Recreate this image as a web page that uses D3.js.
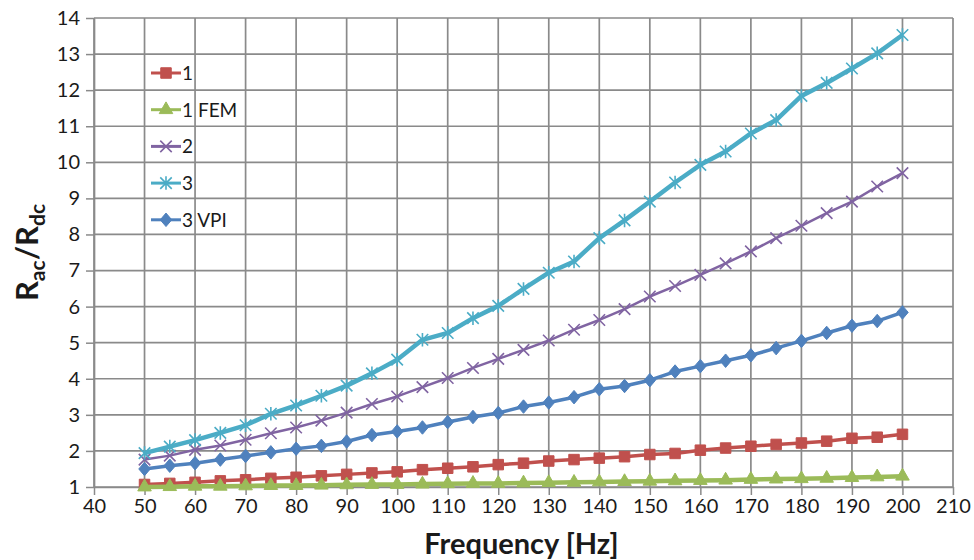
<!DOCTYPE html>
<html>
<head>
<meta charset="utf-8">
<script src="https://cdn.jsdelivr.net/npm/d3@7"></script>
<style>
  body { margin: 0; background: #fff; }
  svg { display: block; font-family: Lato, "Open Sans", sans-serif; }
</style>
</head>
<body>
<div id="chart"></div>
<script>
const freq = [50, 55, 60, 65, 70, 75, 80, 85, 90, 95, 100, 105, 110, 115, 120, 125, 130, 135, 140, 145, 150, 155, 160, 165, 170, 175, 180, 185, 190, 195, 200];
const s1 = [1.07, 1.10, 1.13, 1.17, 1.20, 1.24, 1.27, 1.31, 1.35, 1.39, 1.42, 1.48, 1.52, 1.56, 1.62, 1.66, 1.72, 1.76, 1.80, 1.84, 1.90, 1.93, 2.02, 2.08, 2.13, 2.18, 2.22, 2.27, 2.35, 2.38, 2.46];
const s1fem = [1.00, 1.01, 1.02, 1.02, 1.03, 1.04, 1.04, 1.05, 1.06, 1.07, 1.07, 1.08, 1.09, 1.10, 1.10, 1.11, 1.12, 1.13, 1.14, 1.15, 1.16, 1.17, 1.18, 1.19, 1.21, 1.22, 1.23, 1.24, 1.26, 1.28, 1.30];
const s2 = [1.76, 1.87, 2.03, 2.15, 2.31, 2.49, 2.65, 2.84, 3.06, 3.30, 3.51, 3.77, 4.02, 4.30, 4.55, 4.80, 5.06, 5.36, 5.63, 5.93, 6.28, 6.57, 6.88, 7.20, 7.53, 7.90, 8.24, 8.59, 8.91, 9.33, 9.70];
const s3 = [1.94, 2.12, 2.30, 2.50, 2.71, 3.03, 3.26, 3.53, 3.81, 4.15, 4.53, 5.08, 5.27, 5.68, 6.02, 6.49, 6.94, 7.25, 7.90, 8.39, 8.91, 9.44, 9.93, 10.30, 10.80, 11.17, 11.84, 12.20, 12.60, 13.02, 13.53];
const s3vpi = [1.50, 1.59, 1.66, 1.76, 1.86, 1.96, 2.06, 2.14, 2.26, 2.44, 2.54, 2.65, 2.80, 2.94, 3.05, 3.23, 3.34, 3.49, 3.71, 3.80, 3.96, 4.20, 4.35, 4.50, 4.65, 4.85, 5.05, 5.27, 5.47, 5.60, 5.84];
const seriesNames = ["1", "1 FEM", "2", "3", "3 VPI"];
const xTicks = d3.range(40, 211, 10);
const yTicks = d3.range(1, 15, 1);

const width = 974, height = 560;
const margin = { top: 18, right: 21, bottom: 73, left: 94 };

const series = [
  { name: seriesNames[0], values: s1, color: "#c0504d", width: 3.5, marker: "square" },
  { name: seriesNames[1], values: s1fem, color: "#9bbb59", width: 4.5, marker: "triangle" },
  { name: seriesNames[2], values: s2, color: "#8064a2", width: 2.5, marker: "x" },
  { name: seriesNames[3], values: s3, color: "#4bacc6", width: 4.5, marker: "star" },
  { name: seriesNames[4], values: s3vpi, color: "#4f81bd", width: 3.5, marker: "diamond" }
];

const svg = d3.select("#chart").append("svg")
  .attr("width", width)
  .attr("height", height);

const x = d3.scaleLinear().domain([40, 210]).range([margin.left, width - margin.right]);
const y = d3.scaleLinear().domain([1, 14]).range([height - margin.bottom, margin.top]);

const grid = svg.append("g").attr("class", "grid");
grid.selectAll(".vg").data(xTicks).enter().append("line")
  .attr("x1", d => x(d)).attr("x2", d => x(d))
  .attr("y1", y(1)).attr("y2", y(14))
  .attr("stroke", "#8a8a8a").attr("stroke-width", 1.7);
grid.selectAll(".hg").data(yTicks).enter().append("line")
  .attr("x1", x(40)).attr("x2", x(210))
  .attr("y1", d => y(d)).attr("y2", d => y(d))
  .attr("stroke", "#8a8a8a").attr("stroke-width", 1.7);

// axes
const xAxis = svg.append("g")
  .attr("transform", "translate(0," + y(1) + ")")
  .call(d3.axisBottom(x).tickValues(xTicks).tickSize(8).tickPadding(4).tickSizeOuter(0));
const yAxis = svg.append("g")
  .attr("transform", "translate(" + x(40) + ",0)")
  .call(d3.axisLeft(y).tickValues(yTicks).tickSize(8).tickPadding(6).tickSizeOuter(0));
[xAxis, yAxis].forEach(a => {
  a.select(".domain").attr("stroke", "#8a8a8a").attr("stroke-width", 1.7);
  a.selectAll(".tick line").attr("stroke", "#8a8a8a").attr("stroke-width", 1.5);
  a.selectAll(".tick text").attr("fill", "#1a1a1a")
    .style("font-size", "20px").style("font-family", "Lato, sans-serif");
});

function markerPath(type, size) {
  const h = size / 2;
  if (type === "square") return d3.symbol(d3.symbolSquare, size * size)();
  if (type === "triangle") return d3.symbol(d3.symbolTriangle, size * size * 0.6)();
  if (type === "diamond") return "M0," + (-h - 1) + "L" + (h) + ",0L0," + (h + 1) + "L" + (-h) + ",0Z";
  if (type === "x") return "M" + (-h) + "," + (-h) + "L" + h + "," + h + "M" + (-h) + "," + h + "L" + h + "," + (-h);
  return "M" + (-h) + "," + (-h) + "L" + h + "," + h + "M" + (-h) + "," + h + "L" + h + "," + (-h) + "M0," + (-h - 1) + "L0," + (h + 1);
}

function drawMarker(g, s) {
  const open = s.marker === "x" || s.marker === "star";
  return g.append("path")
    .attr("d", markerPath(s.marker, s.marker === "square" ? 10.5 : 11.5))
    .attr("fill", open ? "none" : s.color)
    .attr("stroke", s.color)
    .attr("stroke-width", open ? 1.6 : 1);
}

const line = d3.line()
  .x((d, i) => x(freq[i]))
  .y(d => y(d));

const plot = svg.append("g").attr("class", "series");
series.forEach(s => {
  const g = plot.append("g");
  g.append("path")
    .attr("d", line(s.values))
    .attr("fill", "none")
    .attr("stroke", s.color)
    .attr("stroke-width", s.width)
    .attr("stroke-linejoin", "round");
  s.values.forEach((v, i) => {
    const m = g.append("g").attr("transform", "translate(" + x(freq[i]) + "," + y(v) + ")");
    drawMarker(m, s);
  });
});

// legend
const legend = svg.append("g").attr("transform", "translate(151,73)");
series.forEach((s, i) => {
  const row = legend.append("g").attr("transform", "translate(0," + i * 36.7 + ")");
  row.append("line").attr("x1", 0).attr("x2", 30).attr("y1", 0).attr("y2", 0)
    .attr("stroke", s.color).attr("stroke-width", 3);
  const m = row.append("g").attr("transform", "translate(15,0)");
  drawMarker(m, s);
  row.append("text").attr("x", 31).attr("y", 7)
    .attr("fill", "#1a1a1a")
    .style("font-size", "19px")
    .text(s.name);
});

// axis titles
const yt = svg.append("text")
  .attr("transform", "translate(38," + ((y(1) + y(14)) / 2) + ") rotate(-90)")
  .attr("text-anchor", "middle")
  .attr("fill", "#1a1a1a")
  .style("font-size", "31px").style("font-weight", "bold");
yt.append("tspan").text("R");
yt.append("tspan").text("ac").style("font-size", "21px").attr("dy", 7);
yt.append("tspan").text("/R").attr("dy", -7);
yt.append("tspan").text("dc").style("font-size", "21px").attr("dy", 7);

svg.append("text")
  .attr("x", (x(40) + x(210)) / 2 - 2)
  .attr("y", 554)
  .attr("text-anchor", "middle")
  .attr("fill", "#1a1a1a")
  .style("font-size", "29px").style("font-weight", "bold")
  .text("Frequency [Hz]");
</script>
</body>
</html>
